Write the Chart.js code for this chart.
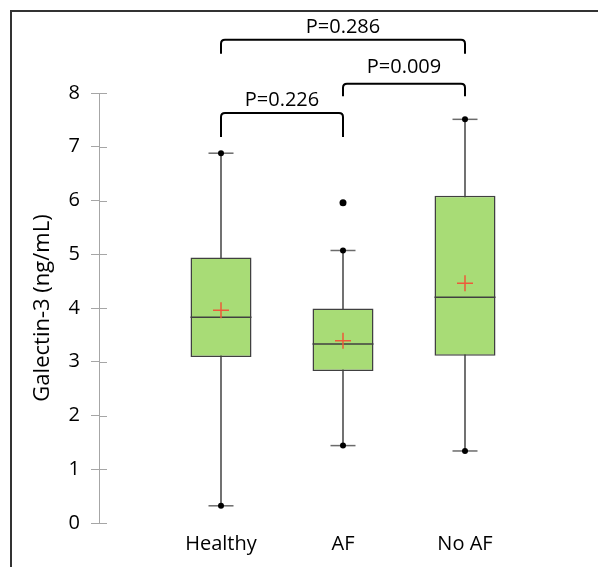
<!DOCTYPE html>
<html>
<head>
<meta charset="utf-8">
<script src="https://cdn.jsdelivr.net/npm/chart.js@4/dist/chart.umd.min.js"></script>
<style>
  body { margin: 0; background: #fff; overflow: hidden; }
  #wrap { position: relative; width: 598px; height: 567px; }
  #frame { position: absolute; left: 10px; top: 10px; width: 700px; height: 700px; border: 2px solid #333; }
  canvas { position: absolute; left: 0; top: 0; }
</style>
</head>
<body>
<div id="wrap">
  <div id="frame"></div>
  <canvas id="boxChart" width="598" height="567"></canvas>
</div>
<script>
// groups (blank entries pad the axis on both sides)
const categories = ['', 'Healthy', 'AF', 'No AF', ''];
const whiskerLow = [null, 0.32, 1.44, 1.34, null];
const q1 = [null, 3.09, 2.83, 3.11, null];
const medians = [null, 3.83, 3.33, 4.20, null];
const q3 = [null, 4.94, 3.99, 6.09, null];
const whiskerHigh = [null, 6.88, 5.07, 7.51, null];
const means = [null, 3.96, 3.39, 4.46, null];
const outliers = [null, null, 5.96, null, null];
const yTickValues = [0, 1, 2, 3, 4, 5, 6, 7, 8];

// significance brackets: from group, to group, label, bracket top, leg bottom, label centre (y units)
const pFrom = ['Healthy', 'AF', 'Healthy'];
const pTo = ['No AF', 'No AF', 'AF'];
const pLabels = ['P=0.286', 'P=0.009', 'P=0.226'];
const pTop = [8.99, 8.17, 7.63];
const pLeg = [8.73, 7.94, 7.18];
const pText = [9.23, 8.47, 7.87];

const FONT = "'Open Sans', sans-serif";

// short tick marks on the inside of the y axis + brackets above
const extrasPlugin = {
    id: 'extras',
    afterDraw(chart) {
        const ctx = chart.ctx;
        const x = chart.scales.x;
        const y = chart.scales.y;
        ctx.save();
        ctx.strokeStyle = '#a6a6a6';
        ctx.lineWidth = 1;
        yTickValues.forEach(v => {
            const py = Math.round(y.getPixelForValue(v)) + 0.5;
            ctx.beginPath();
            ctx.moveTo(x.left, py);
            ctx.lineTo(x.left + 8, py);
            ctx.stroke();
        });

        ctx.strokeStyle = '#000';
        ctx.lineWidth = 2;
        ctx.fillStyle = '#000';
        ctx.font = '20px ' + FONT;
        ctx.textAlign = 'center';
        ctx.textBaseline = 'middle';
        for (let i = 0; i < pLabels.length; i++) {
            const x1 = x.getPixelForValue(categories.indexOf(pFrom[i]));
            const x2 = x.getPixelForValue(categories.indexOf(pTo[i]));
            const yt = y.getPixelForValue(pTop[i]);
            const yl = y.getPixelForValue(pLeg[i]);
            const r = 4;
            ctx.beginPath();
            ctx.moveTo(x1, yl);
            ctx.lineTo(x1, yt + r);
            ctx.quadraticCurveTo(x1, yt, x1 + r, yt);
            ctx.lineTo(x2 - r, yt);
            ctx.quadraticCurveTo(x2, yt, x2, yt + r);
            ctx.lineTo(x2, yl);
            ctx.stroke();
            ctx.fillText(pLabels[i], (x1 + x2) / 2, y.getPixelForValue(pText[i]));
        }
        ctx.restore();
    }
};

const ctx = document.getElementById('boxChart').getContext('2d');
const boxChart = new Chart(ctx, {
    type: 'bar',
    data: {
        labels: categories,
        datasets: [
            {
                // whisker stem
                data: whiskerLow.map((v, i) => v == null ? null : [v, whiskerHigh[i]]),
                backgroundColor: '#555',
                barThickness: 1,
                grouped: false,
                order: 5
            },
            {
                // box
                data: q1.map((v, i) => v == null ? null : [v, q3[i]]),
                backgroundColor: '#a8dc76',
                borderColor: '#404040',
                borderWidth: 1.5,
                borderSkipped: false,
                barPercentage: 0.5,
                categoryPercentage: 1,
                grouped: false,
                order: 4
            },
            {
                type: 'line', data: medians, showLine: false,
                pointStyle: 'line', pointRadius: 30.5,
                pointBorderColor: '#404040', pointBorderWidth: 1.5, order: 3
            },
            {
                type: 'line', data: whiskerHigh, showLine: false,
                pointStyle: 'line', pointRadius: 12.5,
                pointBorderColor: '#6b6b6b', pointBorderWidth: 1.5, order: 3
            },
            {
                type: 'line', data: whiskerLow, showLine: false,
                pointStyle: 'line', pointRadius: 12.5,
                pointBorderColor: '#6b6b6b', pointBorderWidth: 1.5, order: 3
            },
            {
                type: 'line', data: whiskerHigh, showLine: false,
                pointStyle: 'circle', pointRadius: 3,
                pointBackgroundColor: '#000', pointBorderWidth: 0, order: 2
            },
            {
                type: 'line', data: whiskerLow, showLine: false,
                pointStyle: 'circle', pointRadius: 3,
                pointBackgroundColor: '#000', pointBorderWidth: 0, order: 2
            },
            {
                type: 'line', data: outliers, showLine: false,
                pointStyle: 'circle', pointRadius: 3.5,
                pointBackgroundColor: '#000', pointBorderWidth: 0, order: 2
            },
            {
                type: 'line', data: means, showLine: false,
                pointStyle: 'cross', pointRadius: 8,
                pointBorderColor: '#ee5a3a', pointBorderWidth: 1.5, order: 1
            }
        ]
    },
    options: {
        responsive: false,
        animation: false,
        events: [],
        layout: { autoPadding: false, padding: { left: 0, right: 11, top: 93, bottom: 0 } },
        plugins: { legend: { display: false }, tooltip: { enabled: false } },
        scales: {
            x: {
                offset: false,
                grid: { display: false },
                border: { display: false },
                ticks: { color: '#000', font: { family: FONT, size: 20 }, padding: 1, maxRotation: 0, autoSkip: false },
                afterFit(scale) {
                    scale.height = 44;
                    scale.paddingLeft = 0;
                    scale.paddingRight = 0;
                }
            },
            y: {
                min: 0,
                max: 8,
                ticks: { stepSize: 1, color: '#000', font: { family: FONT, size: 20 }, padding: 11 },
                grid: { drawOnChartArea: false, tickLength: 8, color: '#a6a6a6' },
                border: { display: true, color: '#a6a6a6', width: 1 },
                title: {
                    display: true, text: 'Galectin-3 (ng/mL)', color: '#000',
                    font: { family: FONT, size: 22 }, padding: { top: 30, bottom: 0 }
                },
                afterFit(scale) { scale.width = 99; }
            }
        }
    },
    plugins: [extrasPlugin]
});
</script>
</body>
</html>
